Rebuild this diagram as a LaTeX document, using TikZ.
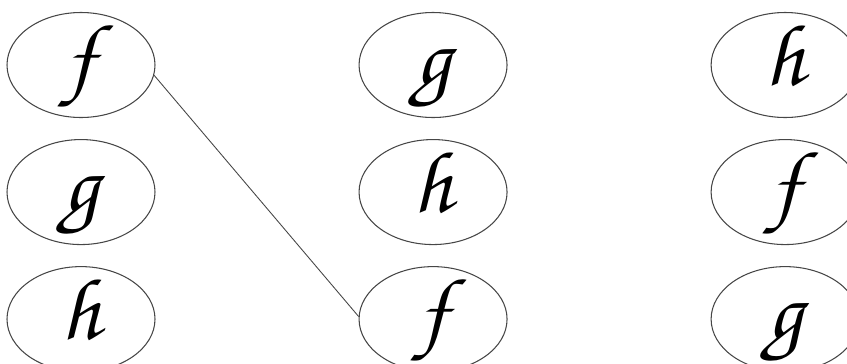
\documentclass[tikz,border=0pt]{standalone}
\usepackage{fontspec}
\newfontfamily\cursivefamily{TeX Gyre Chorus}
\usetikzlibrary{positioning, shapes.geometric}
\definecolor{pencil}{RGB}{70, 70, 70}
\newcommand{\cursivefont}{\cursivefamily\fontsize{50}{50}\selectfont}
\tikzset{
	letterbox/.style={ellipse, draw=pencil, line width=0.6pt, inner sep=0pt, minimum width=2.96cm, minimum height=2.1cm, text height=0.9cm, text depth=0.1cm, font=\cursivefont},
	pairline/.style={draw=pencil, line width=0.5pt},
}
\begin{document}
\begin{tikzpicture}[node distance=0.42cm and 4.06cm]
		\useasboundingbox (0,0) rectangle (16.94,7.26);
		\node[letterbox] (fA) at (1.62,5.96) {f};
		\node[letterbox, below=of fA] (gA) {g};
		\node[letterbox, below=of gA] (hA) {h};
		\node[letterbox, right=of fA] (gB) {g};
		\node[letterbox, right=of gA] (hB) {h};
		\node[letterbox, right=of hA] (fB) {f};
		\node[letterbox, right=of gB] (hC) {h};
		\node[letterbox, right=of hB] (fC) {f};
		\node[letterbox, right=of fB] (gC) {g};
		\draw[pairline] (fA.-8) -- (fB.178);
	\end{tikzpicture}
\end{document}
